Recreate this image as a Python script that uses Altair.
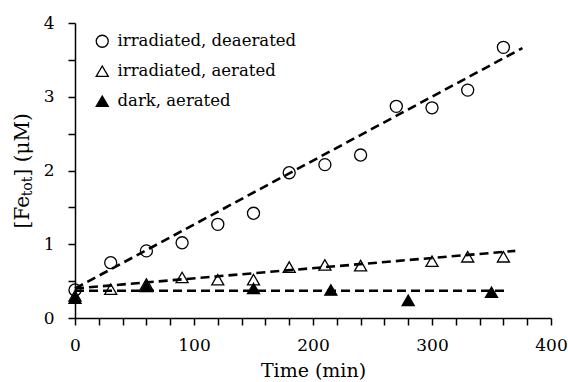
import altair as alt
import pandas as pd

FONT = "DejaVu Serif"

# deaerated, irradiated (circles)
t_deaer = [0, 30, 60, 90, 120, 150, 180, 210, 240, 270, 300, 330, 360]
c_deaer = [0.38, 0.75, 0.91, 1.02, 1.27, 1.42, 1.97, 2.08, 2.21, 2.87, 2.85, 3.09, 3.67]
# aerated, irradiated (open triangles)
t_aer = [0, 30, 60, 90, 120, 150, 180, 210, 240, 300, 330, 360]
c_aer = [0.30, 0.39, 0.46, 0.55, 0.52, 0.52, 0.69, 0.72, 0.71, 0.77, 0.83, 0.83]
# dark, aerated (filled triangles)
t_dark = [0, 60, 150, 215, 280, 350]
c_dark = [0.27, 0.43, 0.40, 0.38, 0.24, 0.35]

# fitted lines (end points)
fit_deaer_t = [0, 376]
fit_deaer_c = [0.40, 3.66]
fit_aer_t = [0, 370]
fit_aer_c = [0.40, 0.91]
fit_dark_t = [0, 361]
fit_dark_c = [0.37, 0.37]

series = ["irradiated, deaerated", "irradiated, aerated", "dark, aerated"]

pts = pd.concat([
    pd.DataFrame({"t": t_deaer, "c": c_deaer, "s": series[0]}),
    pd.DataFrame({"t": t_aer, "c": c_aer, "s": series[1]}),
    pd.DataFrame({"t": t_dark, "c": c_dark, "s": series[2]}),
])
fits = pd.concat([
    pd.DataFrame({"t": fit_deaer_t, "c": fit_deaer_c, "s": series[0]}),
    pd.DataFrame({"t": fit_aer_t, "c": fit_aer_c, "s": series[1]}),
    pd.DataFrame({"t": fit_dark_t, "c": fit_dark_c, "s": series[2]}),
])

xscale = alt.Scale(domain=[0, 400], nice=False)
yscale = alt.Scale(domain=[0, 4], nice=False)

xaxis = alt.Axis(
    values=list(range(0, 401, 20)),
    labelExpr="datum.value % 100 == 0 ? datum.label : ''",
    format="d", labelOverlap=False, labelBound=False, labelFlush=False,
    labelPadding=12, titlePadding=8, title="Time (min)", grid=False,
)
yaxis = alt.Axis(
    values=[0, 0.5, 1, 1.5, 2, 2.5, 3, 3.5, 4],
    labelExpr="datum.value % 1 == 0 ? format(datum.value, 'd') : ''",
    labelOverlap=False, labelBound=False, labelFlush=False,
    labelPadding=14, title=None, grid=False,
)

lines = alt.Chart(fits).mark_line(
    color="black", strokeWidth=2.6, strokeDash=[9, 5]
).encode(
    x=alt.X("t:Q", scale=xscale, axis=xaxis),
    y=alt.Y("c:Q", scale=yscale, axis=yaxis),
    detail="s:N",
)

points = alt.Chart(pts).mark_point(
    strokeWidth=1.3, size=145, opacity=1
).encode(
    x=alt.X("t:Q", scale=xscale, axis=xaxis),
    y=alt.Y("c:Q", scale=yscale, axis=yaxis),
    shape=alt.Shape("s:N", scale=alt.Scale(domain=series, range=["circle", "triangle-up", "triangle-up"]),
                    legend=alt.Legend(title=None)),
    fill=alt.Fill("s:N", scale=alt.Scale(domain=series, range=["transparent", "transparent", "black"]),
                  legend=alt.Legend(title=None)),
    stroke=alt.Stroke("s:N", scale=alt.Scale(domain=series, range=["black", "black", "black"]),
                      legend=alt.Legend(title=None)),
)

ytitle_base = alt.Chart(pd.DataFrame({"a": [0]}))
yt1 = ytitle_base.mark_text(angle=270, align="right", baseline="middle", font=FONT, fontSize=20, color="black").encode(
    text=alt.value("[Fe"), x=alt.value(-52), y=alt.value(173))
yt2 = ytitle_base.mark_text(angle=270, align="center", baseline="middle", font=FONT, fontSize=14, color="black").encode(
    text=alt.value("tot"), x=alt.value(-47), y=alt.value(163.5))
yt3 = ytitle_base.mark_text(angle=270, align="left", baseline="middle", font=FONT, fontSize=20, color="black").encode(
    text=alt.value("] (μM)"), x=alt.value(-52), y=alt.value(153.5))

chart = alt.layer(lines, points, yt1, yt2, yt3).properties(
    width=476, height=295,
    autosize=alt.AutoSizeParams(type="none"),
    padding={"left": 75, "top": 23, "right": 17, "bottom": 64},
).configure(font=FONT).configure_view(stroke=None).configure_axis(
    domainColor="black", domainWidth=1.5, tickColor="black", tickWidth=1.5, tickSize=7,
    labelFont=FONT, labelFontSize=17, labelColor="black", labelOverlap=False,
    titleFont=FONT, titleFontSize=19, titleFontWeight="normal", titleColor="black",
).configure_legend(
    orient="none", legendX=19, legendY=10, labelFont=FONT, labelFontSize=16.5, labelColor="black",
    symbolStrokeWidth=1.3, symbolSize=145, labelOffset=7, labelLimit=400,
    rowPadding=13, padding=0,
)

chart.save("out.html", embed_options={"renderer": "svg", "actions": False})
